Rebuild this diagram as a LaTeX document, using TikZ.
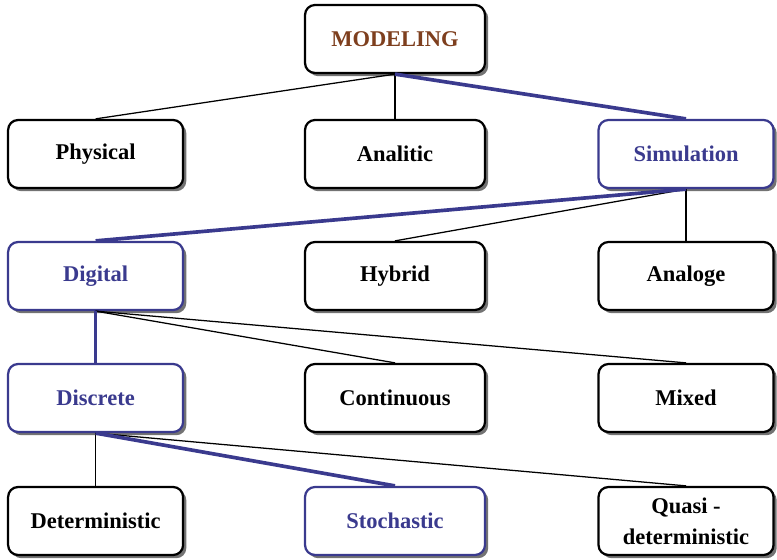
\documentclass[tikz,border=0pt]{standalone}
\usepackage{fontspec}
\setmainfont{Liberation Serif}
\usetikzlibrary{shadows}
\definecolor{pathblue}{HTML}{3A3A8E}
\definecolor{topbrown}{HTML}{7E3F1E}
\tikzset{
  box/.style={draw, line width=1.6pt, rounded corners=0.25cm, fill=white,
    minimum width=4.375cm, minimum height=1.7cm, align=center,
    font=\fontsize{16}{18}\selectfont\bfseries,
    drop shadow={shadow xshift=0.08cm, shadow yshift=-0.08cm, fill=black!55, opacity=1}},
  midbox/.style={box, minimum width=4.5cm},
  onpath/.style={draw=pathblue, text=pathblue},
  link/.style={line width=0.9pt},
  pathlink/.style={draw=pathblue, line width=2.6pt}
}
\begin{document}
\begin{tikzpicture}
  \useasboundingbox (0,0) rectangle (19.425,14);
  \node[midbox, text=topbrown] (model) at (9.875,13.025) {MODELING};
  \node[box] (physical) at (2.39,10.15) {Physical};
  \node[midbox] (analitic) at (9.875,10.15) {Analitic};
  \node[box, onpath] (simulation) at (17.15,10.15) {Simulation};
  \node[box, onpath] (digital) at (2.39,7.1) {Digital};
  \node[midbox] (hybrid) at (9.875,7.1) {Hybrid};
  \node[box] (analoge) at (17.15,7.1) {Analoge};
  \node[box, onpath] (discrete) at (2.39,4.05) {Discrete};
  \node[midbox] (continuous) at (9.875,4.05) {Continuous};
  \node[box] (mixed) at (17.15,4.05) {Mixed};
  \node[box] (deterministic) at (2.39,0.975) {Deterministic};
  \node[midbox, onpath] (stochastic) at (9.875,0.975) {Stochastic};
  \node[box, font=\fontsize{16}{22}\selectfont\bfseries] (quasi) at (17.15,0.975) {Quasi -\\deterministic};
  \begin{scope}[link]
    \draw (model.south) to (physical.north);
    \draw (model.south) to (analitic.north);
    \draw (simulation.south) to (hybrid.north);
    \draw (simulation.south) to (analoge.north);
    \draw (digital.south) to (continuous.north);
    \draw (digital.south) to (mixed.north);
    \draw (discrete.south) to (deterministic.north);
    \draw (discrete.south) to (quasi.north);
  \end{scope}
  \begin{scope}[pathlink]
    \draw (model.south) to (simulation.north);
    \draw (simulation.south) to (digital.north);
    \draw (digital.south) to (discrete.north);
    \draw (discrete.south) to (stochastic.north);
  \end{scope}
\end{tikzpicture}
\end{document}
